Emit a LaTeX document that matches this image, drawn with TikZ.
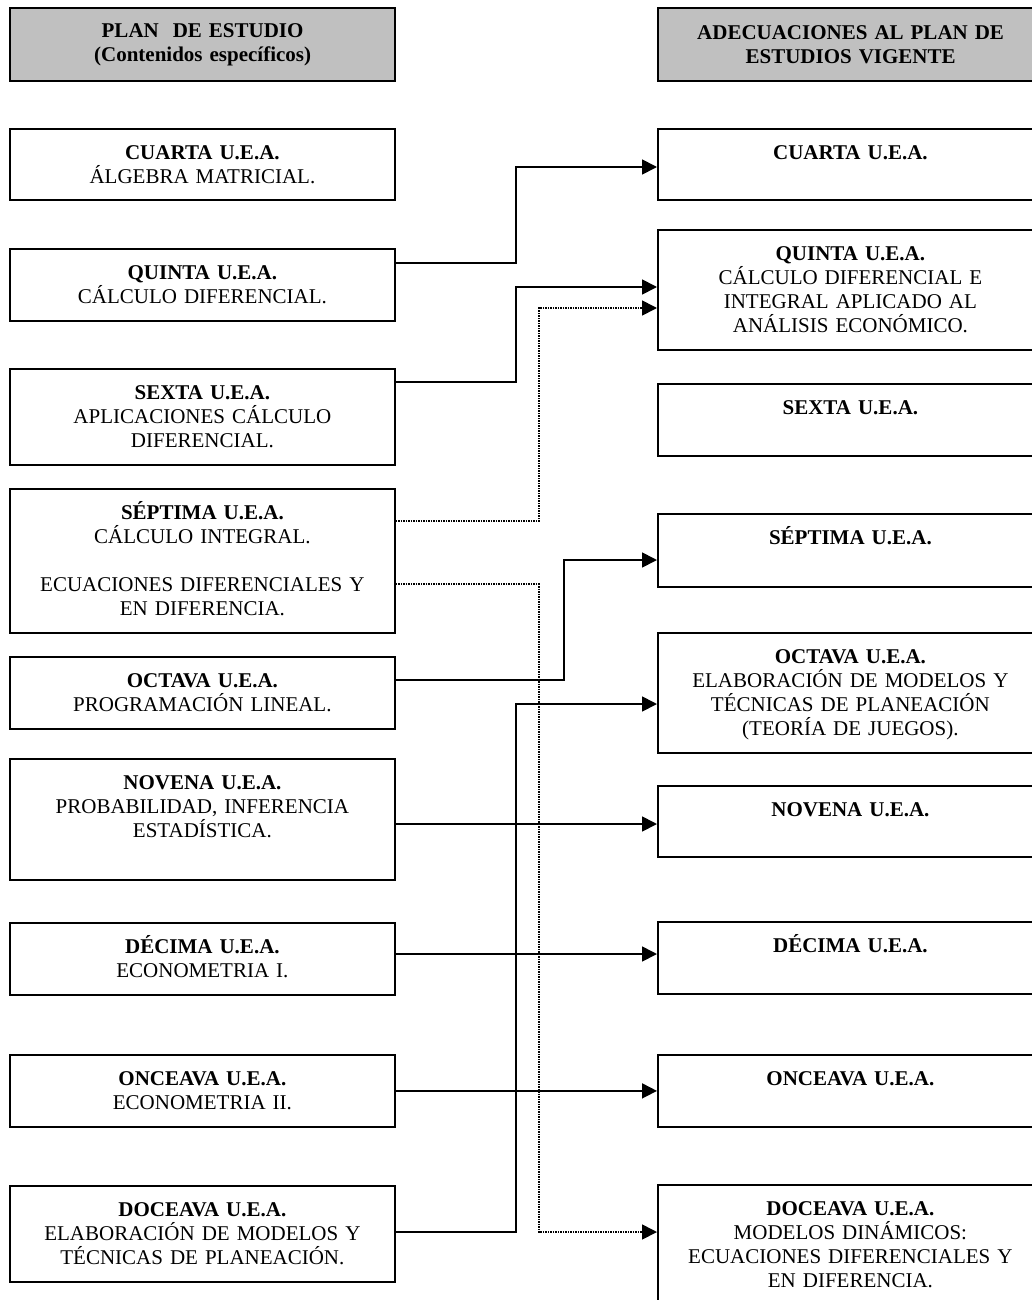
\documentclass[tikz,border=0pt]{standalone}
\usepackage{fontspec}
\setmainfont{Liberation Serif}
\usetikzlibrary{arrows.meta}
\definecolor{hdrgray}{HTML}{C0C0C0}

\begin{document}
\begin{tikzpicture}[x=1pt,y=-1pt,
    font=\fontsize{21}{24}\selectfont,
    box/.style={draw,line width=1.8pt,anchor=north west,text width=377pt,align=center,inner xsep=4pt},
    uea/.style={box,inner ysep=10pt,text height=21pt,text depth=#1},
    head/.style={box,fill=hdrgray,line width=2.2pt,minimum height=73pt,font=\fontsize{21}{24}\selectfont\bfseries},
    link/.style={line width=1.7pt,-{Triangle[length=15pt,width=15pt]}},
    dotlink/.style={link,dash pattern=on 1.5pt off 1pt}]

    \useasboundingbox (0,0) rectangle (1032,1300);
    \clip (0,0) rectangle (1032,1300);

    % headers
    \node [head] (hplan) at (9,7) {PLAN\ \ DE ESTUDIO\\(Contenidos específicos)};
    \node [head] (hadec) at (657,7) {ADECUACIONES AL PLAN DE\\ESTUDIOS VIGENTE};

    % plan de estudio
    \node [uea=30pt] (lcuarta) at (9,128) {\textbf{CUARTA U.E.A.}\\ÁLGEBRA MATRICIAL.};
    \node [uea=31pt] (lquinta) at (9,248) {\textbf{QUINTA U.E.A.}\\CÁLCULO DIFERENCIAL.};
    \node [uea=55pt] (lsexta) at (9,368) {\textbf{SEXTA U.E.A.}\\APLICACIONES CÁLCULO\\DIFERENCIAL.};
    \node [uea=103pt] (lseptima) at (9,488) {\textbf{SÉPTIMA U.E.A.}\\CÁLCULO INTEGRAL.\\[24pt]ECUACIONES DIFERENCIALES Y\\EN DIFERENCIA.};
    \node [uea=31pt] (loctava) at (9,656) {\textbf{OCTAVA U.E.A.}\\PROGRAMACIÓN LINEAL.};
    \node [uea=80pt] (lnovena) at (9,758) {\textbf{NOVENA U.E.A.}\\PROBABILIDAD, INFERENCIA\\ESTADÍSTICA.};
    \node [uea=31pt] (ldecima) at (9,922) {\textbf{DÉCIMA U.E.A.}\\ECONOMETRIA I.};
    \node [uea=31pt] (lonceava) at (9,1054) {\textbf{ONCEAVA U.E.A.}\\ECONOMETRIA II.};
    \node [uea=55pt] (ldoceava) at (9,1185) {\textbf{DOCEAVA U.E.A.}\\ELABORACIÓN DE MODELOS Y\\TÉCNICAS DE PLANEACIÓN.};

    % adecuaciones
    \node [uea=30pt] (rcuarta) at (657,128) {\textbf{CUARTA U.E.A.}};
    \node [uea=79pt] (rquinta) at (657,229) {\textbf{QUINTA U.E.A.}\\CÁLCULO DIFERENCIAL E\\INTEGRAL APLICADO AL\\ANÁLISIS ECONÓMICO.};
    \node [uea=31pt] (rsexta) at (657,383) {\textbf{SEXTA U.E.A.}};
    \node [uea=32pt] (rseptima) at (657,513) {\textbf{SÉPTIMA U.E.A.}};
    \node [uea=79pt] (roctava) at (657,632) {\textbf{OCTAVA U.E.A.}\\ELABORACIÓN DE MODELOS Y\\TÉCNICAS DE PLANEACIÓN\\(TEORÍA DE JUEGOS).};
    \node [uea=30pt] (rnovena) at (657,785) {\textbf{NOVENA U.E.A.}};
    \node [uea=31pt] (rdecima) at (657,921) {\textbf{DÉCIMA U.E.A.}};
    \node [uea=31pt] (ronceava) at (657,1054) {\textbf{ONCEAVA U.E.A.}};
    \node [uea=84pt] (rdoceava) at (657,1184) {\textbf{DOCEAVA U.E.A.}\\MODELOS DINÁMICOS:\\ECUACIONES DIFERENCIALES Y\\EN DIFERENCIA.};

    % links
    \draw [link] ([yshift=-15pt]lquinta.north east) -- ++(120,0) |- ([yshift=-39pt]rcuarta.north west);
    \draw [link] ([yshift=-14pt]lsexta.north east) -- ++(120,0) |- ([yshift=-58pt]rquinta.north west);
    \draw [dotlink] ([yshift=-33pt]lseptima.north east) -- ++(143,0) |- ([yshift=-79pt]rquinta.north west);
    \draw [dotlink] ([yshift=-96pt]lseptima.north east) -- ++(143,0) |- ([yshift=-48pt]rdoceava.north west);
    \draw [link] ([yshift=-24pt]loctava.north east) -- ++(168,0) |- ([yshift=-47pt]rseptima.north west);
    \draw [link] ([yshift=-47pt]ldoceava.north east) -- ++(120,0) |- ([yshift=-72pt]roctava.north west);

    \coordinate (nov) at ([yshift=-39pt]rnovena.north west);
    \draw [link] (lnovena.east |- nov) -- (nov);
    \coordinate (dec) at ([yshift=-33pt]rdecima.north west);
    \draw [link] (ldecima.east |- dec) -- (dec);
    \draw [link] (lonceava.east |- ronceava.west) -- (ronceava.west);

\end{tikzpicture}
\end{document}
